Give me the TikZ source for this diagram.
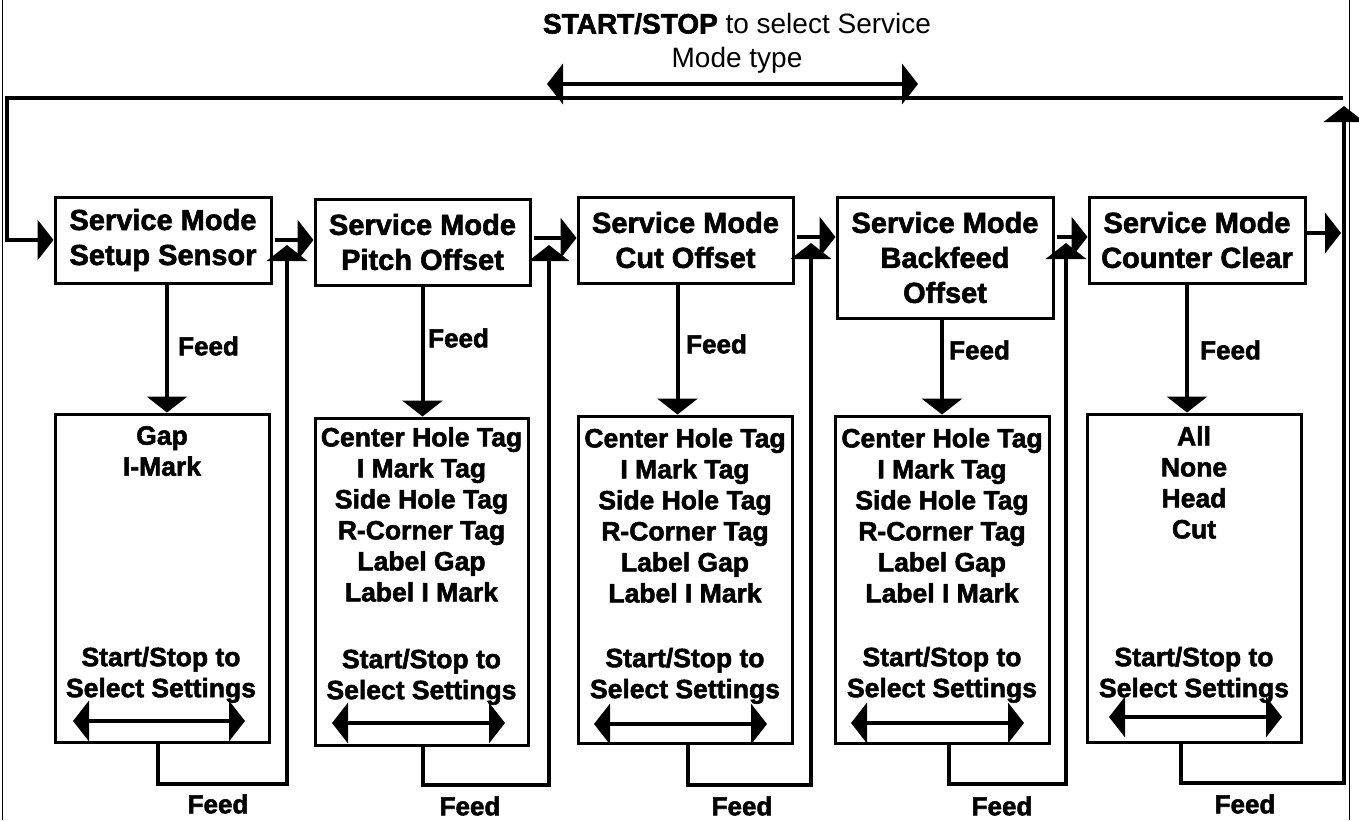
\documentclass[tikz,border=0pt]{standalone}
\usepackage{fontspec}
\setmainfont{Liberation Sans}[BoldFeatures={FakeBold=2}]
\usetikzlibrary{arrows.meta,calc}
\begin{document}
\begin{tikzpicture}[x=1pt,y=-1pt,
  tip/.tip={Triangle[length=16pt,width=40pt]},
  upbox/.style={draw,line width=3pt,inner sep=0pt,align=center,
    font=\fontsize{29}{35}\selectfont\bfseries},
  lowbox/.style={draw,line width=3pt,inner sep=0pt,minimum width=214pt,minimum height=328pt},
  lowtext/.style={inner sep=0pt,align=center,font=\fontsize{26.5}{31}\selectfont\bfseries},
  feedlbl/.style={inner sep=0pt,font=\fontsize{26}{31}\selectfont\bfseries},
  arr/.style={line width=4pt,-tip},
  darr/.style={line width=4pt,tip-tip}]
\useasboundingbox (0,0) rectangle (1359,820);
% frame
\draw[line width=1pt] (2,0) -- (2,820);
\draw[line width=1pt] (1349,0) -- (1349,820);
% title
\node[inner sep=0pt,align=center,font=\fontsize{28}{34}\selectfont,anchor=north] (title) at (737,13)
  {\textbf{START/STOP} to select Service\\Mode type};
\coordinate (da) at (547,84);
\coordinate (db) at (918,84);
\draw[darr] (da) -- (db);
% upper boxes
\node[upbox,minimum width=216pt,minimum height=86pt] (B1) at (163,240) {Service Mode\\Setup Sensor};
\node[upbox,minimum width=215pt,minimum height=86pt] (B2) at (422.5,242) {Service Mode\\Pitch Offset};
\node[upbox,minimum width=215pt,minimum height=86pt] (B3) at (685.5,240) {Service Mode\\Cut Offset};
\node[upbox,minimum width=216pt,minimum height=121pt] (B4) at (945,257.5) {Service Mode\\Backfeed\\Offset};
\node[upbox,minimum width=216pt,minimum height=86pt] (B5) at (1197,240) {Service Mode\\Counter Clear};
% lower boxes
\node[lowbox] (L1) at (162,578) {};
\node[lowbox,minimum height=327pt,minimum width=213pt] (L2) at (421.5,581.5) {};
\node[lowbox,minimum height=327pt] (L3) at (685,579.5) {};
\node[lowbox,minimum height=327pt] (L4) at (942,579.5) {};
\node[lowbox] (L5) at (1194,578) {};
% lower texts
\node[lowtext,anchor=north] (T1) at (162,426) {Gap\\I-Mark};
\node[lowtext,anchor=north] (T2) at (421.5,427) {Center Hole Tag\\I Mark Tag\\Side Hole Tag\\R-Corner Tag\\Label Gap\\Label I Mark};
\node[lowtext,anchor=north] (T3) at (685,428) {Center Hole Tag\\I Mark Tag\\Side Hole Tag\\R-Corner Tag\\Label Gap\\Label I Mark};
\node[lowtext,anchor=north] (T4) at (942,428) {Center Hole Tag\\I Mark Tag\\Side Hole Tag\\R-Corner Tag\\Label Gap\\Label I Mark};
\node[lowtext,anchor=north] (T5) at (1194,426) {All\\None\\Head\\Cut};
\node[lowtext,anchor=south] (S1) at (161,703) {Start/Stop to\\Select Settings};
\node[lowtext,anchor=south] (S2) at (421.5,705) {Start/Stop to\\Select Settings};
\node[lowtext,anchor=south] (S3) at (685,704) {Start/Stop to\\Select Settings};
\node[lowtext,anchor=south] (S4) at (942,703) {Start/Stop to\\Select Settings};
\node[lowtext,anchor=south] (S5) at (1194,703) {Start/Stop to\\Select Settings};
% inner double arrows
\coordinate (a1l) at (73,721);   \coordinate (a1r) at (245,721);
\coordinate (a2l) at (332,723);  \coordinate (a2r) at (505,723);
\coordinate (a3l) at (594,724);  \coordinate (a3r) at (767,724);
\coordinate (a4l) at (851,723);  \coordinate (a4r) at (1024,723);
\coordinate (a5l) at (1109,717); \coordinate (a5r) at (1282,717);
\foreach \i in {1,...,5} {\draw[darr] (a\i l) -- (a\i r);}
% feed down arrows
\foreach \i/\dx in {1/4,2/0,3/-8,4/-3,5/-10} {
  \draw[arr] ([xshift=\dx pt]B\i.south) -- ([xshift=\dx pt]B\i.south |- L\i.north);}
\node[feedlbl,anchor=west] (F1) at (178,346) {Feed};
\node[feedlbl,anchor=west] (F2) at (428,338) {Feed};
\node[feedlbl,anchor=west] (F3) at (686,344) {Feed};
\node[feedlbl,anchor=west] (F4) at (949,350) {Feed};
\node[feedlbl,anchor=west] (F5) at (1200,350) {Feed};
% horizontal arrows between boxes
\draw[arr] ([xshift=2pt]B1.east) -- (B1.east -| B2.west);
\draw[arr] ([xshift=2pt,yshift=4pt]B2.east) -- ([yshift=4pt]B2.east -| B3.west);
\draw[arr] ([xshift=2pt,yshift=3pt]B3.east) -- ([yshift=3pt]B3.east -| B4.west);
\coordinate (b4r) at (B4.east |- B5.west);
\draw[arr] ([xshift=2pt,yshift=3pt]b4r) -- ([yshift=3pt]B5.west);
\coordinate (rx) at (1341,233);
\draw[arr] ([yshift=7pt]B5.east) -- (rx);
% feed loops
\coordinate (u1) at (287,245);
\coordinate (u2) at (549,245);
\coordinate (u3) at (811,243);
\coordinate (u4) at (1066,243);
\coordinate (u5) at (1344,106);
\draw[arr] ([xshift=-4pt]L1.south) -- ++(0,40) -| (u1);
\draw[arr] ([xshift=1.5pt]L2.south) -- ++(0,38) -| (u2);
\draw[arr] ([xshift=3pt]L3.south) -- ++(0,40) -| (u3);
\draw[arr] ([xshift=7pt]L4.south) -- ++(0,39) -| (u4);
\draw[arr] ([xshift=-13pt]L5.south) -- ++(0,39) -| (u5);
\node[feedlbl] (G1) at (218,804) {Feed};
\node[feedlbl] (G2) at (470,806) {Feed};
\node[feedlbl] (G3) at (742,806) {Feed};
\node[feedlbl] (G4) at (1002,806) {Feed};
\node[feedlbl] (G5) at (1245,804) {Feed};
% top return line
\coordinate (tr) at (1343,98);
\coordinate (tl) at (7,98);
\draw[arr] (tr) -- (tl) |- (B1.west);
\end{tikzpicture}
\end{document}
